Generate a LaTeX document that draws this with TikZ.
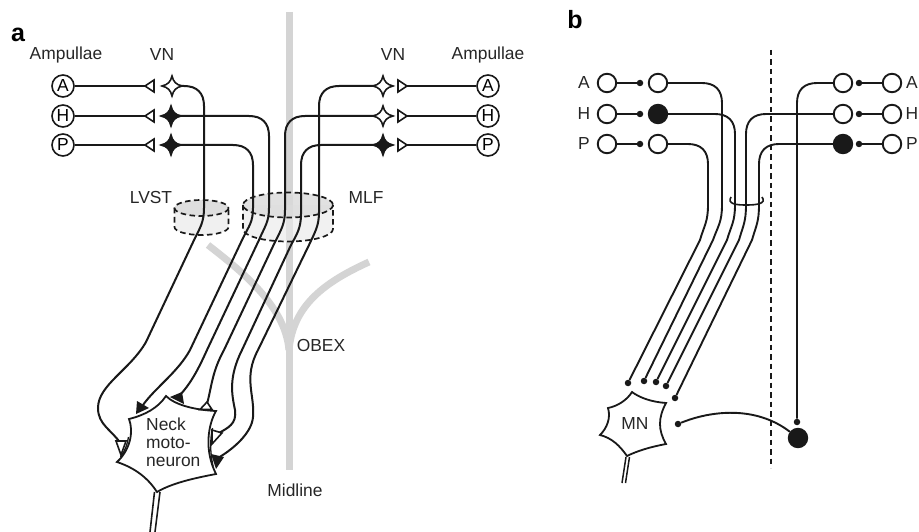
\documentclass[tikz,border=0pt]{standalone}
\usepackage{fontspec}
\setmainfont{Liberation Sans}
\tikzset{
  x=1pt,y=-1pt,
  fibre/.style={line width=2pt,draw=black!90},
  thin fibre/.style={line width=1.9pt,draw=black!90},
  grey bar/.style={line width=7pt,draw=black!17},
  ampulla/.style={circle,draw=black!90,line width=1.6pt,minimum size=22pt,inner sep=0pt,font=\fontsize{17.4}{18}\selectfont},
  cell/.style={circle,draw=black!90,line width=1.9pt,minimum size=18.5pt,inner sep=0pt,fill=white},
  cell on/.style={cell,fill=black!90},
  knob/.style={circle,fill=black!90,draw=none,minimum size=6.5pt,inner sep=0pt},
  lab/.style={inner sep=0pt,text=black!85,font=\fontsize{17.4}{18}\selectfont},
  head/.style={inner sep=0pt,font=\bfseries\fontsize{25}{26}\selectfont},
  anchorpt/.style={inner sep=0pt,minimum size=0pt},
  ring/.style={line width=1.7pt,dash pattern=on 5.5pt off 3.5pt,draw=black!90},
  tipline/.style={line width=1.6pt,draw=black!90,line join=miter},
}
\newcommand{\vnstar}[4]{% name, x, y, fill
  \node[anchorpt] (#1) at (#2,#3) {};
  \draw[line width=1.6pt,draw=black!90,fill=#4]
    (#2-10,#3) .. controls (#2-4,#3-1.5) and (#2-1.5,#3-4) .. (#2,#3-10)
    .. controls (#2+1.5,#3-4) and (#2+4,#3-1.5) .. (#2+10,#3)
    .. controls (#2+4,#3+1.5) and (#2+1.5,#3+4) .. (#2,#3+10)
    .. controls (#2-1.5,#3+4) and (#2-4,#3+1.5) .. cycle;
}
\begin{document}
\begin{tikzpicture}
\useasboundingbox (0,0) rectangle (919,532);
% grey structures
\draw[grey bar] (289.5,12) -- (289.5,470);
\draw[line width=7pt,draw=black!17] (208,245) .. controls (240,270) and (285,305) .. (289,350);
\draw[line width=7pt,draw=black!17] (369,262) .. controls (325,282) and (293,305) .. (289,350);
% cylinders
\fill[black!6] (174.5,208) -- (174.5,227) arc[start angle=180,end angle=0,x radius=27,y radius=8] -- (228.5,208) -- cycle;
\fill[black!13] (201.5,208) ellipse[x radius=27,y radius=8];
\fill[black!6,opacity=.9] (243,205) -- (243,229) arc[start angle=180,end angle=0,x radius=45,y radius=12.5] -- (333,205) -- cycle;
\fill[black!13,opacity=.9] (288,205) ellipse[x radius=45,y radius=12.5];
\draw[grey bar,draw opacity=.45] (289.5,195) -- (289.5,240);
\draw[ring] (201.5,208) ellipse[x radius=27,y radius=8];
\draw[ring] (174.5,208) -- (174.5,227) arc[start angle=180,end angle=0,x radius=27,y radius=8] -- (228.5,208);
\draw[ring] (288,205) ellipse[x radius=45,y radius=12.5];
\draw[ring] (243,205) -- (243,229) arc[start angle=180,end angle=0,x radius=45,y radius=12.5] -- (333,205);
% labels panel a
\node[head] (la) at (18,35) {a};
\node[lab] (t1) at (66,55) {Ampullae};
\node[lab] (t2) at (162,55) {VN};
\node[lab] (t3) at (393,55) {VN};
\node[lab] (t4) at (488,55) {Ampullae};
\node[lab] (t5) at (151,198) {LVST};
\node[lab] (t6) at (366,198) {MLF};
\node[lab] (t7) at (321,346) {OBEX};
\node[lab] (t8) at (295,490) {Midline};
% ampullae
\node[ampulla] (LA) at (63,86) {A};
\node[ampulla] (LH) at (63,116) {H};
\node[ampulla] (LP) at (63,145) {P};
\node[ampulla] (RA) at (488,86) {A};
\node[ampulla] (RH) at (488,116) {H};
\node[ampulla] (RP) at (488,145) {P};
% input terminals
\foreach \n/\yy in {A/86,H/116,P/145}{
  \node[anchorpt] (TL\n) at (145,\yy) {};
  \node[anchorpt] (TR\n) at (407,\yy) {};
  \draw[fibre] (L\n) -- (TL\n);
  \draw[fibre] (R\n) -- (TR\n);
  \draw[tipline,fill=white] (145,\yy) -- (154,\yy-6) -- (154,\yy+6) -- cycle;
  \draw[tipline,fill=white] (407,\yy) -- (398,\yy-6) -- (398,\yy+6) -- cycle;
}
% stars
\vnstar{SLA}{172}{86}{white}
\vnstar{SLH}{171}{116}{black!90}
\vnstar{SLP}{171}{145}{black!90}
\vnstar{SRA}{383}{86}{white}
\vnstar{SRH}{383}{116}{white}
\vnstar{SRP}{383}{145}{black!90}
% neuron
\draw[line width=1.8pt,draw=black!90,fill=white]
  (129,419) .. controls (145,415) and (158,408) .. (166,396)
  .. controls (175,405) and (195,410) .. (216,411)
  .. controls (208,425) and (204,450) .. (216,474)
  .. controls (195,478) and (172,483) .. (157,492)
  .. controls (148,478) and (135,468) .. (117,462)
  .. controls (130,450) and (134,432) .. (129,419) -- cycle;
\draw[line width=1.3pt,draw=black!90] (212.5,428) .. controls (210,440) and (210,452) .. (213,466);
\draw[line width=1.3pt,draw=black!90] (120.5,457) .. controls (125,451) and (127.5,444) .. (128.5,437);
\node[anchorpt] (AX) at (157,492) {};
\draw[line width=1.6pt,draw=black!90] (154.5,492) -- (150,532);
\draw[line width=1.6pt,draw=black!90] (160,492) -- (155,532);
\node[lab,align=left,anchor=north west,font=\fontsize{17.4}{18}\selectfont] (neck) at (146,418) {Neck\\moto-\\neuron};
% synaptic tips
\coordinate (E1) at (121,444);
\coordinate (E2) at (143,405);
\coordinate (E3) at (178,397);
\coordinate (E4) at (207,404);
\coordinate (E5) at (217,434);
\coordinate (E6) at (218,458);
% fibres a
\draw[fibre] (SLA.center) ++(8,0) coordinate (s1) (s1) -- (184,86) .. controls (197,86) and (204,93) .. (204,106) -- (204,208) .. controls (204,222) and (200,228) .. (195,238) -- (146,342) .. controls (130,370) and (98,385) .. (98,408) .. controls (98,425) and (112,430) .. (E1);
\draw[fibre] (SLP.center) ++(8,0) coordinate (s2) (s2) -- (233,145) .. controls (246,145) and (253,152) .. (253,165) -- (253,208) .. controls (253,222) and (249,226) .. (243,238) -- (190,350) .. controls (178,372) and (155,388) .. (E2);
\draw[fibre] (SLH.center) ++(8,0) coordinate (s3) (s3) -- (249,116) .. controls (262,116) and (269,123) .. (269,136) -- (269,208) .. controls (269,222) and (265,226) .. (259,240) -- (207,350) .. controls (198,370) and (190,385) .. (E3);
\draw[fibre] (SRH.center) ++(-8,0) coordinate (s4) (s4) -- (305,116) .. controls (292,116) and (285,123) .. (285,136) -- (285,210) .. controls (285,224) and (281,230) .. (275,242) -- (224,350) .. controls (212,372) and (212,385) .. (E4);
\draw[fibre] (SRP.center) ++(-8,0) coordinate (s5) (s5) -- (321,145) .. controls (308,145) and (301,152) .. (301,165) -- (301,214) .. controls (301,228) and (297,234) .. (291,245) -- (242,350) .. controls (228,378) and (232,395) .. (235,410) .. controls (237,424) and (228,428) .. (E5);
\draw[fibre] (SRA.center) ++(-8,0) coordinate (s6) (s6) -- (339,86) .. controls (326,86) and (319,93) .. (319,106) -- (319,212) .. controls (319,226) and (315,232) .. (309,245) -- (258,350) .. controls (243,378) and (255,395) .. (253,417) .. controls (252,432) and (235,448) .. (E6);
% triangles at neuron
\draw[tipline,fill=white] (116,441) -- (126,441) -- (121,455) -- cycle;
\fill[black!90] (137,401) -- (149,408) -- (136,414) -- cycle;
\fill[black!90] (170,397) -- (182,392) -- (184,404) -- cycle;
\draw[tipline,fill=white] (200,409.5) -- (212,409.5) -- (207,402) -- cycle;
\draw[tipline,fill=white] (212,430) -- (222,433) -- (212,444) -- cycle;
\fill[black!90] (211,454) -- (224,457) -- (216,469) -- cycle;
% panel b
\node[head] (lb) at (575,20) {b};
\draw[line width=1.8pt,draw=black!90,dash pattern=on 5.5pt off 4pt] (771,50) -- (771,468);
\foreach \n/\yy in {A/83,H/114,P/144}{
  \node[lab] (bt\n) at (584,\yy) {\n};
  \node[cell] (bl\n) at (607,\yy) {};
  \node[knob] (bk\n) at (640,\yy) {};
  \draw[thin fibre] (bl\n) -- (bk\n);
  \node[lab] (btr\n) at (912,\yy) {\n};
  \node[cell] (br\n) at (892,\yy) {};
  \node[knob] (bq\n) at (859,\yy) {};
  \draw[thin fibre] (br\n) -- (bq\n);
}
\node[cell] (c1) at (658,83) {};
\node[cell on] (c2) at (658,114) {};
\node[cell] (c3) at (658,144) {};
\node[cell] (d1) at (843,83) {};
\node[cell] (d2) at (843,114) {};
\node[cell on] (d3) at (843,144) {};
\node[knob] (e1) at (628,383) {};
\node[knob] (e2) at (644,381) {};
\node[knob] (e3) at (656,382) {};
\node[knob] (e4) at (666,386) {};
\node[knob] (e5) at (675,398) {};
\node[knob] (e6) at (797,422) {};
\node[cell on] (big) at (798,438) {};
\node[knob] (e7) at (678,424) {};
\draw[thin fibre] (c3) -- (688,144) .. controls (701,144) and (708,151) .. (708,164) -- (708,205) .. controls (708,222) and (704,226) .. (700,240) -- (e1);
\draw[thin fibre] (c1) -- (702,83) .. controls (715,83) and (722,90) .. (722,103) -- (722,205) .. controls (722,222) and (718,226) .. (713,240) -- (e2);
\draw[thin fibre] (c2) -- (715,114) .. controls (728,114) and (735,121) .. (735,134) -- (735,205) .. controls (735,222) and (731,226) .. (727,240) -- (e3);
\draw[thin fibre] (d2) -- (766,114) .. controls (753,114) and (746,121) .. (746,134) -- (746,205) .. controls (746,222) and (743,226) .. (739,240) -- (e4);
\draw[thin fibre] (d3) -- (779,144) .. controls (766,144) and (759,151) .. (759,164) -- (759,205) .. controls (759,222) and (756,226) .. (752,240) -- (e5);
\draw[thin fibre] (d1) -- (817,83) .. controls (804,83) and (797,90) .. (797,103) -- (e6);
\draw[thin fibre] (e7) .. controls (710,411) and (755,405) .. (big);
\draw[line width=1.6pt,draw=black!90] (731,197) .. controls (727,204) and (736,205) .. (746,205) .. controls (756,205) and (767,204) .. (762,197);
% MN
\draw[line width=1.8pt,draw=black!90,fill=white]
  (608,408) .. controls (618,406) and (627,400) .. (632,392)
  .. controls (640,398) and (652,402) .. (666,403)
  .. controls (658,418) and (658,430) .. (666,444)
  .. controls (650,447) and (637,451) .. (627,456)
  .. controls (620,446) and (612,438) .. (600,435)
  .. controls (607,428) and (611,418) .. (608,408) -- cycle;
\node[lab] (mn) at (635,424) {MN};
\draw[line width=1.5pt,draw=black!90] (626,457) -- (622,483);
\draw[line width=1.5pt,draw=black!90] (629.5,457) -- (625.5,483);
\end{tikzpicture}
\end{document}
